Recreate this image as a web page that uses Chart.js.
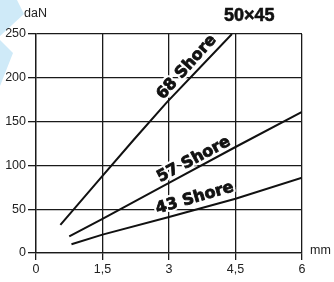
<!DOCTYPE html>
<html>
<head>
<meta charset="utf-8">
<script src="https://cdn.jsdelivr.net/npm/chart.js@4.4.0/dist/chart.umd.min.js"></script>
<style>
  html, body { margin: 0; padding: 0; background: #fff; }
  #wrap { position: relative; width: 334px; height: 282px; overflow: hidden; font-family: "Liberation Sans", Arial, sans-serif; }
  .deco { position: absolute; left: 0; top: 0; width: 40px; height: 100px; background: #cfeaf8; }
  #decoA { clip-path: polygon(0 0, 17px 0, 24px 14px, 0 36px); }
  #decoB { clip-path: polygon(0 40px, 13px 53px, 0 86px); }
  canvas { position: absolute; left: 0; top: 0; }
  .txt { position: absolute; color: #222; font-size: 12.5px; line-height: 1; }
</style>
</head>
<body>
<div id="wrap">
  <div class="deco" id="decoA"></div>
  <div class="deco" id="decoB"></div>
  <canvas id="springChart" width="334" height="282"></canvas>
  <div class="txt" style="left:24px;top:7px;">daN</div>
  <div class="txt" style="left:224px;top:6px;font-weight:bold;font-size:18px;color:#111;-webkit-text-stroke:0.6px #111;">50×45</div>
  <div class="txt" style="left:310px;top:244px;">mm</div>
</div>
<script>
// deflection (mm) / load (daN) per shore hardness
const x68 = [0.55, 1.5, 2.2, 2.95, 3.63, 4.42];
const y68 = [32, 88, 129, 172, 208, 250];
const x57 = [0.75, 1.5, 3, 4.5, 6];
const y57 = [19, 39, 80, 121, 161];
const x43 = [0.8, 1.5, 3, 4.5, 6];
const y43 = [10, 21, 41, 62, 86];

const xTicks = [0, 1.5, 3, 4.5, 6];
const yTicks = [0, 50, 100, 150, 200, 250];

const labelText = ["68 Shore", "57 Shore", "43 Shore"];
const labelX = [3.4, 3.56, 3.58];
const labelY = [212, 106.5, 62.5];

function toPoints(xs, ys) {
  return xs.map((x, i) => ({ x: x, y: ys[i] }));
}

const shoreLabels = {
  id: "shoreLabels",
  afterDatasetsDraw(chart) {
    const ctx = chart.ctx;
    const xs = chart.scales.x;
    const ys = chart.scales.y;
    ctx.save();
    ctx.font = "bold 16px 'DejaVu Sans', sans-serif";
    ctx.textAlign = "center";
    ctx.textBaseline = "middle";
    labelText.forEach((txt, i) => {
      const pts = chart.data.datasets[i].data;
      const a = pts[0];
      const b = pts[pts.length - 1];
      const ang = Math.atan2(
        ys.getPixelForValue(b.y) - ys.getPixelForValue(a.y),
        xs.getPixelForValue(b.x) - xs.getPixelForValue(a.x)
      );
      ctx.save();
      ctx.translate(xs.getPixelForValue(labelX[i]), ys.getPixelForValue(labelY[i]));
      ctx.rotate(ang);
      ctx.lineJoin = "round";
      ctx.strokeStyle = "#fff";
      ctx.lineWidth = 5;
      ctx.strokeText(txt, 0, 0);
      ctx.strokeStyle = "#111";
      ctx.lineWidth = 0.8;
      ctx.strokeText(txt, 0, 0);
      ctx.fillStyle = "#111";
      ctx.fillText(txt, 0, 0);
      ctx.restore();
    });
    ctx.restore();
  },
};

const ctx = document.getElementById("springChart").getContext("2d");
const lineStyle = {
  showLine: true,
  borderColor: "#111",
  borderWidth: 2,
  pointRadius: 0,
  fill: false,
  tension: 0,
};

new Chart(ctx, {
  type: "scatter",
  data: {
    datasets: [
      { label: "68 Shore", data: toPoints(x68, y68), ...lineStyle },
      { label: "57 Shore", data: toPoints(x57, y57), ...lineStyle },
      { label: "43 Shore", data: toPoints(x43, y43), ...lineStyle },
    ],
  },
  options: {
    responsive: false,
    animation: false,
    layout: {
      padding: { top: 34, right: 32, bottom: 0, left: 0 },
    },
    scales: {
      x: {
        type: "linear",
        min: 0,
        max: 6,
        afterBuildTicks: (s) => {
          s.ticks = xTicks.map((v) => ({ value: v }));
        },
        afterFit: (s) => {
          s.height = 29;
        },
        ticks: {
          color: "#222",
          padding: 2,
          font: { family: "'Liberation Sans', Arial, sans-serif", size: 12.5 },
          callback: (v) => String(v).replace(".", ","),
        },
        grid: {
          color: "#1a1a1a",
          lineWidth: 1.3,
          tickLength: 7,
          tickColor: "#1a1a1a",
        },
        border: { color: "#1a1a1a", width: 1.3 },
      },
      y: {
        min: 0,
        max: 250,
        afterBuildTicks: (s) => {
          s.ticks = yTicks.map((v) => ({ value: v }));
        },
        afterFit: (s) => {
          s.width = 36;
        },
        ticks: {
          color: "#222",
          padding: 2,
          font: { family: "'Liberation Sans', Arial, sans-serif", size: 12.5 },
        },
        grid: {
          color: "#1a1a1a",
          lineWidth: 1.3,
          tickLength: 8,
          tickColor: "#1a1a1a",
        },
        border: { color: "#1a1a1a", width: 1.3 },
      },
    },
    plugins: {
      legend: { display: false },
      tooltip: { enabled: false },
    },
  },
  plugins: [shoreLabels],
});
</script>
</body>
</html>
